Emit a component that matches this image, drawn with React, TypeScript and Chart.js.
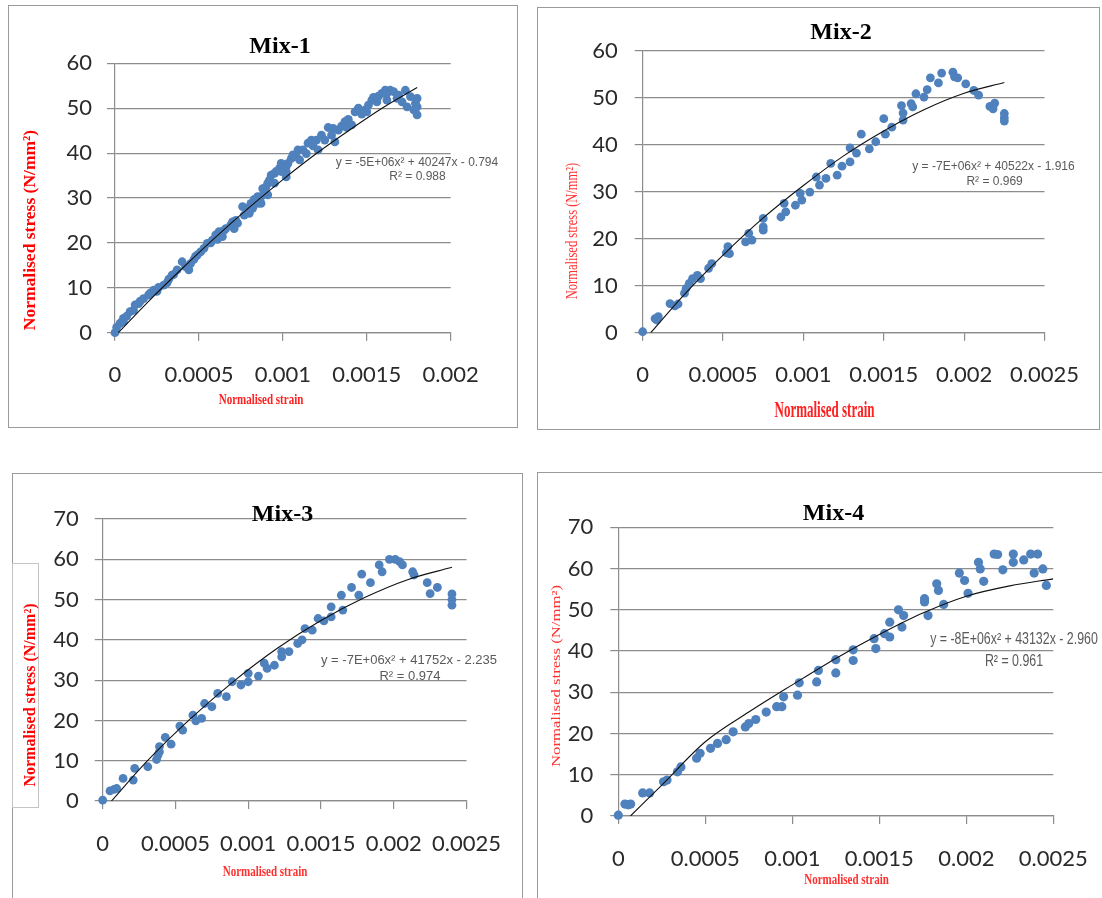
import React, { useEffect, useRef } from 'react';
import { Chart, registerables } from 'chart.js';
Chart.register(...registerables);

// ---------- tick values / labels ----------
const X_TICKS_20 = [0, 0.0005, 0.001, 0.0015, 0.002];
const X_LABELS_20 = ['0', '0.0005', '0.001', '0.0015', '0.002'];
const X_TICKS_25 = [0, 0.0005, 0.001, 0.0015, 0.002, 0.0025];
const X_LABELS_25 = ['0', '0.0005', '0.001', '0.0015', '0.002', '0.0025'];
const Y_TICKS_60 = [0, 10, 20, 30, 40, 50, 60];
const Y_TICKS_70 = [0, 10, 20, 30, 40, 50, 60, 70];

// ---------- Mix-1 ----------
const MIX1_POINTS: [number, number][] = [
  [0, 0], [0.00001, 1.2], [0.00003, 2.1], [0.00005, 3.2], [0.00005, 2.5], [0.00007, 3.7], [0.00009, 4.7], [0.00011, 5.0],
  [0.00012, 6.2], [0.00014, 6.5], [0.00015, 7.0], [0.00017, 7.6], [0.0002, 8.4], [0.00021, 8.8], [0.00023, 9.5],
  [0.00025, 9.2], [0.00026, 10.1], [0.00029, 10.6], [0.00031, 11.1], [0.00032, 11.9], [0.00034, 12.8], [0.00035, 13.0],
  [0.00037, 14.0], [0.0004, 15.8], [0.00042, 14.7], [0.00044, 14.0], [0.00045, 15.4], [0.00047, 16.3], [0.00048, 17.0],
  [0.00049, 17.3], [0.00051, 18.0], [0.00053, 18.8], [0.00055, 19.9], [0.00057, 20.0], [0.00058, 20.6], [0.0006, 21.8],
  [0.00061, 20.8], [0.00062, 22.5], [0.00064, 21.4], [0.00065, 22.8], [0.00066, 23.2], [0.00069, 24.0], [0.0007, 24.7],
  [0.00071, 23.2], [0.00072, 25.0], [0.00073, 24.4], [0.00076, 28.1], [0.00077, 26.2], [0.00079, 27.7], [0.0008, 26.6],
  [0.00081, 28.8], [0.00082, 27.7], [0.00083, 29.7], [0.00085, 28.8], [0.00085, 30.3], [0.00087, 30.3], [0.00087, 28.8],
  [0.00088, 32.1], [0.00089, 31.4], [0.0009, 32.5], [0.00091, 30.7], [0.00091, 33.3], [0.00092, 34.0], [0.00093, 35.1],
  [0.00095, 33.3], [0.00095, 35.5], [0.00096, 35.9], [0.00098, 36.6], [0.00099, 37.7], [0.00099, 35.9], [0.001, 36.6],
  [0.00102, 34.7], [0.00102, 35.9], [0.00102, 37.0], [0.00103, 37.7], [0.00105, 38.8], [0.00106, 39.6], [0.00108, 39.2],
  [0.00109, 40.7], [0.0011, 38.5], [0.00112, 40.7], [0.00114, 39.9], [0.00115, 42.2], [0.00117, 42.9], [0.00118, 41.6],
  [0.0012, 42.9], [0.00121, 40.7], [0.00123, 44.0], [0.00125, 42.9], [0.00127, 45.7], [0.00129, 44.0], [0.0013, 45.5],
  [0.00131, 42.5], [0.00133, 45.1], [0.00135, 46.0], [0.00137, 47.0], [0.00138, 45.7], [0.00139, 47.5], [0.00141, 46.3],
  [0.00143, 49.2], [0.00145, 50.0], [0.00147, 48.7], [0.00149, 49.6], [0.0015, 49.2], [0.00151, 50.7], [0.00153, 51.8],
  [0.00154, 52.4], [0.00156, 51.4], [0.00157, 52.7], [0.00159, 53.3], [0.00161, 54.0], [0.00162, 53.3], [0.00162, 51.8],
  [0.00164, 54.0], [0.00166, 53.7], [0.00168, 52.2], [0.00169, 52.9], [0.00171, 51.4], [0.00173, 54.0], [0.00174, 50.3],
  [0.00176, 52.6], [0.00178, 49.6], [0.00179, 51.1], [0.0018, 48.5], [0.0018, 50.3], [0.0018, 52.2],
];
const MIX1_TREND_X = [0.00002, 0.0002, 0.0004, 0.0006, 0.0008, 0.001, 0.0012, 0.0014, 0.0016, 0.0018];
const MIX1_TREND_Y = [0, 7.0, 14.3, 21.3, 27.9, 34.1, 39.9, 45.2, 50.2, 54.6];

// ---------- Mix-2 ----------
const MIX2_POINTS: [number, number][] = [
  [0, 0.2], [0.000077, 3.0], [0.000087, 2.7], [0.000097, 3.4], [0.00017, 6.2], [0.0002, 5.7], [0.00022, 6.1],
  [0.00026, 8.4], [0.00027, 9.4], [0.00029, 10.5], [0.00031, 11.5], [0.00034, 12.2], [0.00036, 11.5], [0.00041, 13.7],
  [0.00043, 14.7], [0.00052, 17.0], [0.00053, 18.3], [0.00054, 16.8], [0.00064, 19.3], [0.00066, 21.1], [0.00068, 19.7],
  [0.00075, 24.3], [0.00075, 22.5], [0.00075, 21.8], [0.00086, 24.6], [0.00088, 27.5], [0.00089, 25.7], [0.00095, 27.1],
  [0.00098, 29.6], [0.00099, 28.2], [0.00104, 29.9], [0.00108, 33.1], [0.0011, 31.4], [0.00114, 32.8], [0.00117, 36.0],
  [0.00121, 33.5], [0.00124, 35.4], [0.00129, 36.3], [0.00129, 39.3], [0.00133, 38.2], [0.00136, 42.2], [0.00141, 39.1],
  [0.00145, 40.6], [0.0015, 45.5], [0.00151, 42.2], [0.00155, 43.7], [0.00161, 48.3], [0.00162, 45.2], [0.00162, 46.7],
  [0.00167, 48.7], [0.00168, 48.0], [0.0017, 50.8], [0.00175, 50.1], [0.00177, 51.7], [0.00179, 54.2], [0.00184, 53.1],
  [0.00186, 55.2], [0.00193, 55.4], [0.00194, 54.4], [0.00196, 54.2], [0.00201, 52.9], [0.00206, 51.5], [0.00209, 50.5],
  [0.00216, 48.1], [0.00219, 48.8], [0.00218, 47.6], [0.00225, 46.6], [0.00225, 45.7], [0.00225, 45.0],
];
const MIX2_TREND_X = [0.00005, 0.00025, 0.0005, 0.00075, 0.001, 0.00125, 0.0015, 0.00175, 0.002, 0.00225];
const MIX2_TREND_Y = [0, 7.8, 16.5, 24.4, 31.3, 37.6, 42.9, 47.4, 50.9, 53.2];

// ---------- Mix-3 ----------
const MIX3_POINTS: [number, number][] = [
  [0, 0.2], [0.00005, 2.5], [0.000078, 2.9], [0.000096, 3.1], [0.00014, 5.6], [0.00021, 5.2], [0.00022, 8.1],
  [0.00031, 8.5], [0.00037, 10.3], [0.00038, 11.4], [0.00039, 13.5], [0.00039, 12.2], [0.00043, 15.8], [0.00047, 14.1],
  [0.00053, 18.6], [0.00055, 17.6], [0.00062, 21.3], [0.00064, 19.9], [0.00068, 20.5], [0.0007, 24.2], [0.00075, 23.4],
  [0.00079, 26.7], [0.00085, 25.9], [0.00089, 29.6], [0.00095, 28.8], [0.001, 31.7], [0.001, 29.6], [0.00107, 31.0],
  [0.00111, 34.2], [0.00113, 32.9], [0.00118, 33.7], [0.00123, 35.8], [0.00123, 37.1], [0.00128, 37.1], [0.00134, 39.1],
  [0.00137, 40.0], [0.00139, 42.8], [0.00144, 42.4], [0.00148, 45.3], [0.00152, 44.7], [0.00157, 45.7], [0.00157, 48.2],
  [0.00164, 51.1], [0.00165, 47.4], [0.00171, 53.0], [0.00176, 51.1], [0.00178, 56.3], [0.00184, 54.2], [0.0019, 58.6],
  [0.00192, 56.9], [0.00197, 60.0], [0.00201, 60.0], [0.00204, 59.4], [0.00206, 58.6], [0.00213, 56.9], [0.00214, 56.1],
  [0.00223, 54.2], [0.00225, 51.5], [0.0023, 53.0], [0.0024, 51.4], [0.0024, 50.0], [0.0024, 48.6],
];
const MIX3_TREND_X = [0.00006, 0.0003, 0.0006, 0.0009, 0.0012, 0.0015, 0.0018, 0.0021, 0.0024];
const MIX3_TREND_Y = [0, 9.7, 20.3, 29.7, 37.9, 44.8, 50.5, 55.0, 58.0];

// ---------- Mix-4 ----------
const MIX4_POINTS: [number, number][] = [
  [0, 0.2], [0.000038, 2.9], [0.000057, 2.7], [0.000071, 2.9], [0.00014, 5.6], [0.00018, 5.6], [0.00026, 8.3],
  [0.00028, 8.7], [0.00034, 10.7], [0.00036, 11.9], [0.00045, 14.0], [0.00047, 15.2], [0.00053, 16.4], [0.00057, 17.6],
  [0.00062, 18.5], [0.00066, 20.4], [0.00073, 21.6], [0.00075, 22.4], [0.00079, 23.4], [0.00085, 25.2], [0.00091, 26.5],
  [0.00094, 26.5], [0.00095, 28.9], [0.00103, 29.3], [0.00104, 32.3], [0.00114, 32.5], [0.00115, 35.3], [0.00125, 34.7],
  [0.00125, 37.9], [0.00135, 37.7], [0.00135, 40.3], [0.00147, 43.0], [0.00148, 40.6], [0.00153, 44.2], [0.00156, 43.4],
  [0.00156, 47.0], [0.00161, 50.0], [0.00163, 45.8], [0.00164, 48.6], [0.00176, 51.9], [0.00176, 52.7], [0.00178, 48.6],
  [0.00183, 56.3], [0.00184, 54.7], [0.00187, 51.3], [0.00196, 58.9], [0.00199, 57.1], [0.00201, 54.0], [0.00207, 61.5],
  [0.00208, 59.9], [0.0021, 56.9], [0.00216, 63.5], [0.00218, 63.4], [0.00221, 59.7], [0.00227, 63.5], [0.00227, 61.5],
  [0.00233, 62.1], [0.00237, 63.5], [0.00241, 63.5], [0.00239, 58.9], [0.00244, 59.9], [0.00246, 55.9],
];
const MIX4_TREND_X = [0.00007, 0.00025, 0.0005, 0.00075, 0.001, 0.00125, 0.0015, 0.00175, 0.002, 0.00225, 0.0025];
const MIX4_TREND_Y = [0, 7.5, 18.0, 25.2, 31.8, 38.2, 44.0, 49.2, 53.3, 55.8, 57.5];

// ---------- styling ----------
const GRID = '#8c8c8c';
const TICK_COLOR = '#2a2a2a';
const TICK_FONT = { family: 'Lato, "Open Sans", sans-serif', size: 22 };
const DOT = '#4f81bd';
const SERIF = '"Liberation Serif", "Times New Roman", serif';
const SANS = '"Liberation Sans", Arial, sans-serif';
const EQ_COLOR = '#5a5a5a';

type Txt = { text: string; x: number; y: number; font: string; color: string; rot?: number; sx?: number; sy?: number };
type Box = { l: number; t: number; r: number; b: number };
type PanelCfg = {
  frame: Box; plot: Box; xTicks: number[]; xLabels: string[]; yTicks: number[];
  points: [number, number][]; trendX: number[]; trendY: number[];
  xPad: number; yPad: number; dotR: number; texts: Txt[]; labelBox?: Box;
};

const PANELS: PanelCfg[] = [
  {
    frame: { l: 8, t: 5, r: 518, b: 428 }, plot: { l: 115, t: 63.3, r: 450.7, b: 332.7 },
    xTicks: X_TICKS_20, xLabels: X_LABELS_20, yTicks: Y_TICKS_60,
    points: MIX1_POINTS, trendX: MIX1_TREND_X, trendY: MIX1_TREND_Y, xPad: 21, yPad: 15, dotR: 4.4,
    texts: [
      { text: 'Mix-1', x: 280, y: 47, font: `bold 24px ${SERIF}`, color: '#000' },
      { text: 'Normalised stress (N/mm²)', x: 30, y: 230, rot: -90, font: `bold 17.5px ${SERIF}`, color: '#ff0000' },
      { text: 'Normalised strain', x: 261, y: 400, font: `bold 11px ${SERIF}`, color: '#ff2020', sy: 1.3 },
      { text: 'y = -5E+06x² + 40247x - 0.794', x: 417, y: 163, font: `12px ${SANS}`, color: EQ_COLOR },
      { text: 'R² = 0.988', x: 417.5, y: 177, font: `12px ${SANS}`, color: EQ_COLOR },
    ],
  },
  {
    frame: { l: 537, t: 7, r: 1100, b: 430 }, plot: { l: 642.7, t: 50.5, r: 1045, b: 332.7 },
    xTicks: X_TICKS_25, xLabels: X_LABELS_25, yTicks: Y_TICKS_60,
    points: MIX2_POINTS, trendX: MIX2_TREND_X, trendY: MIX2_TREND_Y, xPad: 21, yPad: 17, dotR: 4.4,
    texts: [
      { text: 'Mix-2', x: 841, y: 33, font: `bold 24px ${SERIF}`, color: '#000' },
      { text: 'Normalised stress (N/mm²)', x: 573, y: 231, rot: -90, font: `12.5px ${SERIF}`, color: '#ff3030', sy: 1.3 },
      { text: 'Normalised strain', x: 824.5, y: 411.7, font: `bold 13px ${SERIF}`, color: '#ff2020', sy: 1.7 },
      { text: 'y = -7E+06x² + 40522x - 1.916', x: 993.5, y: 167, font: `12px ${SANS}`, color: EQ_COLOR },
      { text: 'R² = 0.969', x: 994.6, y: 182, font: `12px ${SANS}`, color: EQ_COLOR },
    ],
  },
  {
    frame: { l: 12, t: 473, r: 523, b: 910 }, plot: { l: 102.7, t: 519, r: 468.3, b: 801 },
    xTicks: X_TICKS_25, xLabels: X_LABELS_25, yTicks: Y_TICKS_70,
    points: MIX3_POINTS, trendX: MIX3_TREND_X, trendY: MIX3_TREND_Y, xPad: 22, yPad: 16, dotR: 4.4,
    labelBox: { l: 12, t: 563, r: 39, b: 808 },
    texts: [
      { text: 'Mix-3', x: 282.5, y: 515, font: `bold 24px ${SERIF}`, color: '#000' },
      { text: 'Normalised stress (N/mm²)', x: 31, y: 695, rot: -90, font: `bold 16px ${SERIF}`, color: '#ff0000' },
      { text: 'Normalised strain', x: 265, y: 872, font: `bold 11px ${SERIF}`, color: '#ff3030', sy: 1.3 },
      { text: 'y = -7E+06x² + 41752x - 2.235', x: 409, y: 660, font: `13px ${SANS}`, color: EQ_COLOR },
      { text: 'R² = 0.974', x: 410, y: 676.5, font: `13px ${SANS}`, color: EQ_COLOR },
    ],
  },
  {
    frame: { l: 537, t: 472, r: 1110, b: 910 }, plot: { l: 618.3, t: 527.3, r: 1053.3, b: 816 },
    xTicks: X_TICKS_25, xLabels: X_LABELS_25, yTicks: Y_TICKS_70,
    points: MIX4_POINTS, trendX: MIX4_TREND_X, trendY: MIX4_TREND_Y, xPad: 22, yPad: 17, dotR: 4.6,
    texts: [
      { text: 'Mix-4', x: 833.5, y: 514, font: `bold 24px ${SERIF}`, color: '#000' },
      { text: 'Normalised stress (N/mm²)', x: 557, y: 676, rot: -90, font: `12px ${SERIF}`, color: '#ff3030', sx: 1.39 },
      { text: 'Normalised strain', x: 846.5, y: 880, font: `bold 11px ${SERIF}`, color: '#ff3030', sy: 1.4 },
      { text: 'y = -8E+06x² + 43132x - 2.960', x: 1014, y: 640, font: `12.4px ${SANS}`, color: EQ_COLOR, sy: 1.3 },
      { text: 'R² = 0.961', x: 1014, y: 661.7, font: `12.4px ${SANS}`, color: EQ_COLOR, sy: 1.3 },
    ],
  },
];

function makeTextPlugin(items: Txt[], f: Box) {
  return {
    id: 'panelTexts',
    afterDraw(chart: any) {
      const ctx = chart.ctx as CanvasRenderingContext2D;
      items.forEach((t) => {
        ctx.save();
        ctx.translate(t.x - f.l, t.y - f.t);
        if (t.rot) ctx.rotate((t.rot * Math.PI) / 180);
        ctx.scale(t.sx || 1, t.sy || 1);
        ctx.font = t.font;
        ctx.fillStyle = t.color;
        ctx.textAlign = 'center';
        ctx.textBaseline = 'middle';
        ctx.fillText(t.text, 0, 0);
        ctx.restore();
      });
    },
  };
}

function Panel({ cfg }: { cfg: PanelCfg }) {
  const ref = useRef<HTMLCanvasElement>(null);
  const f = cfg.frame;
  const p = cfg.plot;
  const W = f.r - f.l;
  const H = f.b - f.t;
  useEffect(() => {
    const chart = new Chart(ref.current as HTMLCanvasElement, {
      type: 'scatter',
      data: {
        datasets: [
          {
            data: cfg.trendX.map((x, i) => ({ x, y: cfg.trendY[i] })),
            showLine: true,
            pointRadius: 0,
            borderColor: '#111111',
            borderWidth: 1.1,
            cubicInterpolationMode: 'monotone',
            fill: false,
          } as any,
          {
            data: cfg.points.map(([x, y]) => ({ x, y })),
            showLine: false,
            pointRadius: cfg.dotR,
            pointBackgroundColor: DOT,
            pointBorderColor: DOT,
            pointBorderWidth: 0,
            backgroundColor: DOT,
            borderColor: DOT,
            clip: false,
          } as any,
        ],
      },
      options: {
        animation: false,
        responsive: false,
        maintainAspectRatio: false,
        events: [],
        layout: { padding: { left: 0, top: p.t - f.t, right: f.r - p.r, bottom: 0 } },
        plugins: { legend: { display: false }, tooltip: { enabled: false }, title: { display: false } },
        scales: {
          x: {
            type: 'linear',
            min: 0,
            max: cfg.xTicks[cfg.xTicks.length - 1],
            afterBuildTicks: (s: any) => { s.ticks = cfg.xTicks.map((v) => ({ value: v })); },
            afterFit: (s: any) => { s.height = f.b - p.b; },
            ticks: {
              autoSkip: false, maxRotation: 0, minRotation: 0, padding: cfg.xPad,
              color: TICK_COLOR, font: TICK_FONT,
              callback: (v: any) => { const i = cfg.xTicks.indexOf(Number(v)); return i >= 0 ? cfg.xLabels[i] : ''; },
            },
            grid: { drawOnChartArea: false, drawTicks: true, tickLength: 8, color: GRID, lineWidth: 1.2 },
            border: { display: true, color: GRID, width: 1.2 },
          },
          y: {
            type: 'linear',
            min: 0,
            max: cfg.yTicks[cfg.yTicks.length - 1],
            afterBuildTicks: (s: any) => { s.ticks = cfg.yTicks.map((v) => ({ value: v })); },
            afterFit: (s: any) => { s.width = p.l - f.l; },
            ticks: { autoSkip: false, padding: cfg.yPad, color: TICK_COLOR, font: TICK_FONT, callback: (v: any) => String(v) },
            grid: { drawOnChartArea: true, drawTicks: true, tickLength: 8, color: GRID, lineWidth: 1.2 },
            border: { display: true, color: GRID, width: 1.2 },
          },
        },
      } as any,
      plugins: [makeTextPlugin(cfg.texts, f)],
    });
    return () => chart.destroy();
  }, []);
  const lb = cfg.labelBox;
  return (
    <>
      <div
        style={{
          position: 'absolute', left: f.l, top: f.t, width: W, height: H,
          border: '1px solid #9a9a9a', boxSizing: 'border-box', background: '#fff',
        }}
      />
      {lb ? (
        <div
          style={{
            position: 'absolute', left: lb.l, top: lb.t, width: lb.r - lb.l, height: lb.b - lb.t,
            border: '1px solid #c4c4c4', boxSizing: 'border-box', background: '#fff',
          }}
        />
      ) : null}
      <canvas
        ref={ref}
        width={W}
        height={H}
        style={{ position: 'absolute', left: f.l, top: f.t, width: W, height: H }}
      />
    </>
  );
}

export default function App() {
  return (
    <div
      style={{
        position: 'absolute', left: 0, top: 0, width: 1102, height: 898,
        overflow: 'hidden', background: '#ffffff',
      }}
    >
      <Panel cfg={PANELS[0]} />
      <Panel cfg={PANELS[1]} />
      <Panel cfg={PANELS[2]} />
      <Panel cfg={PANELS[3]} />
    </div>
  );
}
